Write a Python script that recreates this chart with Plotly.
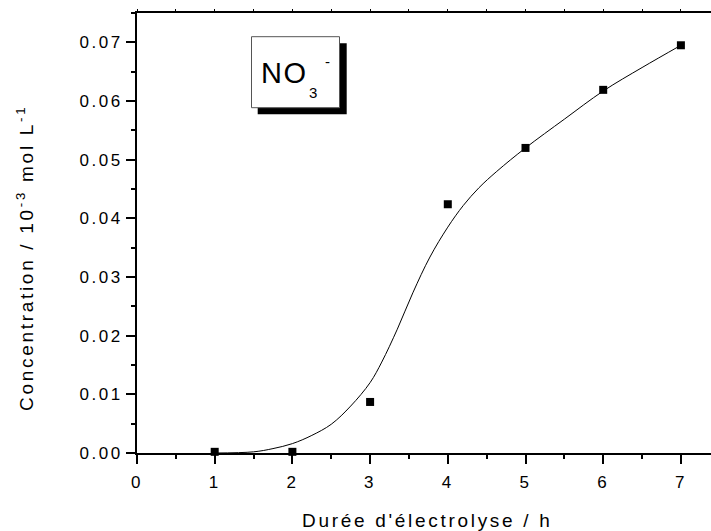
import plotly.graph_objects as go

# ---- data ----
time_h = [1, 2, 3, 4, 5, 6, 7]
conc = [0.0002, 0.0002, 0.0087, 0.0424, 0.0520, 0.0619, 0.0695]

fit_x = [1.0, 1.5, 1.75, 2.0, 2.25, 2.5, 2.75, 3.0, 3.15, 3.35, 3.55, 3.77, 4.0, 4.2, 4.4, 4.63, 5.0, 5.5, 6.0, 6.5, 7.0]
fit_y = [0.0, 0.0002, 0.00075, 0.0016, 0.0030, 0.0049, 0.0080, 0.0120, 0.0155, 0.0211, 0.0273, 0.0334, 0.0385, 0.0422, 0.0452, 0.0480, 0.0520, 0.0569, 0.0617, 0.0657, 0.0695]

x_ticks = [0, 1, 2, 3, 4, 5, 6, 7]
y_ticks = [0.00, 0.01, 0.02, 0.03, 0.04, 0.05, 0.06, 0.07]

FONT = "Arial, Liberation Sans, sans-serif"
W, H = 711, 531
L, R, T, B = 137, 0, 13, 78


def sp(s, ls=2.5):
    return f'<span style="letter-spacing:{ls}px">{s}</span>'


def px(x):
    return (x - L) / (W - L - R)


def py(y):
    return (H - B - y) / (H - T - B)


fig = go.Figure()
fig.add_trace(go.Scatter(x=fit_x, y=fit_y, mode="lines",
                         line=dict(color="black", width=1, shape="spline", smoothing=1.0),
                         hoverinfo="skip", showlegend=False))
fig.add_trace(go.Scatter(x=time_h, y=conc, mode="markers",
                         marker=dict(symbol="square", size=8, color="black"),
                         cliponaxis=False, showlegend=False))
# invisible trace for top axis
fig.add_trace(go.Scatter(x=[0], y=[0], xaxis="x2", mode="markers",
                         marker=dict(opacity=0), hoverinfo="skip", showlegend=False))

xr = [0, (W - L - R) / 77.7]

fig.update_layout(
    width=W, height=H,
    margin=dict(l=L, r=R, t=T, b=B),
    paper_bgcolor="white", plot_bgcolor="white",
    font=dict(family=FONT, size=17, color="black"),
    xaxis=dict(range=xr, showgrid=False, zeroline=False, showline=True,
               linecolor="black", linewidth=2,
               ticks="outside", ticklen=9, tickwidth=2, tickcolor="black",
               tickvals=x_ticks, ticktext=[sp(str(v)) for v in x_ticks],
               ticklabelstandoff=4,
               minor=dict(dtick=0.5, tick0=0, ticks="outside", ticklen=4, tickwidth=2, tickcolor="black"),
               tickfont=dict(size=17)),
    xaxis2=dict(range=xr, overlaying="x", side="top", showgrid=False, zeroline=False,
                showline=True, linecolor="black", linewidth=2,
                ticks="outside", ticklen=2, tickwidth=1, tickcolor="black",
                dtick=0.5, tick0=0, showticklabels=False),
    yaxis=dict(range=[0, 0.0750], showgrid=False, zeroline=False, showline=True,
               linecolor="black", linewidth=2,
               ticks="outside", ticklen=9, tickwidth=2, tickcolor="black",
               tickvals=y_ticks, ticktext=[sp(f"{v:.2f}") for v in y_ticks],
               minor=dict(dtick=0.005, tick0=0, ticks="outside", ticklen=4, tickwidth=2, tickcolor="black"),
               tickfont=dict(size=17)),
    showlegend=False,
)

# label box with shadow
fig.add_shape(type="rect", xref="paper", yref="paper",
              x0=px(257.7), x1=px(346.7), y0=py(114.3), y1=py(43.3),
              fillcolor="black", line=dict(width=0))
fig.add_shape(type="rect", xref="paper", yref="paper",
              x0=px(251.5), x1=px(339.5), y0=py(107.7), y1=py(36.7),
              fillcolor="white", line=dict(color="#555555", width=1))

ann = [
    dict(text=sp("NO", 1.5), x=px(284), y=py(73), size=29),
    dict(text="3", x=px(313), y=py(93), size=15),
    dict(text="-", x=px(327), y=py(61), size=15),
]
for a in ann:
    fig.add_annotation(text=a["text"], x=a["x"], y=a["y"], xref="paper", yref="paper",
                       showarrow=False, xanchor="center", yanchor="middle",
                       font=dict(size=a["size"], family=FONT, color="black"))

# axis titles
fig.add_annotation(text=sp("Durée d'électrolyse / h", 2.7), x=px(427), y=py(520),
                   xref="paper", yref="paper", showarrow=False,
                   xanchor="center", yanchor="middle", font=dict(size=19, family=FONT))
fig.add_annotation(text=sp("Concentration / 10<sup>-3</sup> mol L<sup>-1</sup>", 2.7),
                   x=px(25), y=py(258), xref="paper", yref="paper", showarrow=False,
                   textangle=-90, xanchor="center", yanchor="middle", font=dict(size=19, family=FONT))

fig.write_html("out.html", config={"displayModeBar": False},
               post_script="document.body.style.margin='0';document.body.style.padding='0';")
